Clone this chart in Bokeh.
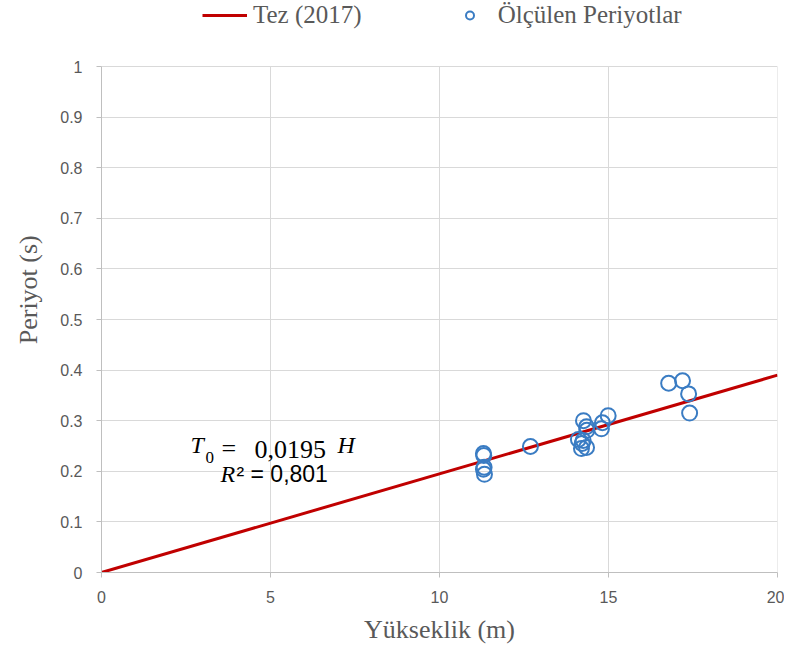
from bokeh.plotting import figure
from bokeh.models import Range1d, Legend, LegendItem, Label, FixedTicker
from bokeh.embed import file_html
from bokeh.resources import INLINE

# measured periods
height_m = [11.30, 11.31, 11.32, 11.30, 11.33, 12.69,
            14.26, 14.35, 14.36, 14.11, 14.25, 14.22, 14.20, 14.35,
            14.82, 14.79, 14.99,
            16.78, 17.19, 17.37, 17.40]
period_s = [0.235, 0.231, 0.208, 0.204, 0.194, 0.249,
            0.300, 0.288, 0.281, 0.263, 0.261, 0.255, 0.245, 0.247,
            0.296, 0.284, 0.310,
            0.374, 0.379, 0.353, 0.315]

# Tez (2017) relation T0 = 0.0195 H
coef = 0.0195
line_x = [0, 20]
line_y = [coef * v for v in line_x]

x_ticks = [0, 5, 10, 15, 20]
y_ticks = [0, 0.1, 0.2, 0.3, 0.4, 0.5, 0.6, 0.7, 0.8, 0.9, 1.0]
y_tick_labels = {0: "0", 0.1: "0.1", 0.2: "0.2", 0.3: "0.3", 0.4: "0.4", 0.5: "0.5",
                 0.6: "0.6", 0.7: "0.7", 0.8: "0.8", 0.9: "0.9", 1.0: "1"}
y_max = 1.0

# frame extends above y=1 to hold the legend (572 px frame, 506 px for 0..1)
p = figure(width=784, height=646, output_backend="svg", toolbar_location=None,
           x_range=Range1d(0, 20), y_range=Range1d(0, y_max * 572 / 506),
           min_border_left=101, min_border_right=7, min_border_top=0, min_border_bottom=74)
p.outline_line_color = None

gray = "#595959"
for ax in (p.xaxis[0], p.yaxis[0]):
    ax.axis_line_color = "#bfbfbf"
    ax.major_tick_line_color = "#bfbfbf"
    ax.major_tick_out = 5
    ax.major_tick_in = 0
    ax.minor_tick_line_color = None
    ax.major_label_text_color = gray
    ax.major_label_text_font = "Liberation Sans"
    ax.major_label_text_font_size = "16px"
    ax.axis_label_text_color = gray
    ax.axis_label_text_font = "Liberation Serif"
    ax.axis_label_text_font_style = "normal"
    ax.axis_label_text_font_size = "26px"

p.xaxis.ticker = FixedTicker(ticks=x_ticks)
p.yaxis.ticker = FixedTicker(ticks=y_ticks)
p.yaxis.bounds = (0, y_max)
p.yaxis.major_label_overrides = y_tick_labels
p.xaxis.axis_label = "Yükseklik (m)"
p.yaxis.axis_label = "Periyot  (s)"
p.xaxis.major_label_standoff = 13
p.yaxis.major_label_standoff = 14
p.xaxis.axis_label_standoff = 9
p.yaxis.axis_label_standoff = 14

p.xgrid.visible = False
p.ygrid.ticker = FixedTicker(ticks=y_ticks)
p.ygrid.grid_line_color = "#d9d9d9"
p.ygrid.grid_line_width = 1
# vertical grid lines limited to 0..1
p.segment(x0=x_ticks, y0=[0] * len(x_ticks), x1=x_ticks, y1=[y_max] * len(x_ticks),
          line_color="#d9d9d9", line_width=1)

r_line = p.line(line_x, line_y, line_color="#c00000", line_width=3)
r_pts = p.scatter(height_m, period_s, marker="circle", size=15, fill_color=None,
                  line_color="#3a7cc3", line_width=2)

legend = Legend(items=[LegendItem(label="Tez (2017)", renderers=[r_line]),
                       LegendItem(label="Ölçülen Periyotlar", renderers=[r_pts])],
                orientation="horizontal", location=(101, 543),
                label_text_font="Liberation Serif", label_text_font_size="25px",
                label_text_color=gray, glyph_width=45, label_standoff=6, spacing=85,
                border_line_color=None, background_fill_alpha=0, padding=3,
                margin=0)
p.add_layout(legend)

# equation annotations
eq_font = "Liberation Serif"
p.add_layout(Label(x=2.63, y=0.227, text="T", text_font=eq_font, text_font_style="italic",
                   text_font_size="24px", text_color="black"))
p.add_layout(Label(x=2.63, y=0.227, x_offset=15, y_offset=-5, text="0", text_font=eq_font,
                   text_font_size="17px", text_color="black"))
p.add_layout(Label(x=2.63, y=0.227, x_offset=31, y_offset=-5, text="=", text_font=eq_font,
                   text_font_size="26px", text_color="black"))
p.add_layout(Label(x=2.63, y=0.227, x_offset=64, text="0,0195", text_font=eq_font,
                   text_font_size="26px", text_color="black"))
p.add_layout(Label(x=2.63, y=0.227, x_offset=147, text="H", text_font=eq_font,
                   text_font_style="italic", text_font_size="24px", text_color="black"))
p.add_layout(Label(x=3.52, y=0.168, text="R", text_font=eq_font, text_font_style="italic",
                   text_font_size="24px", text_color="black"))
p.add_layout(Label(x=3.52, y=0.168, x_offset=16, text="² = 0,801", text_font="Liberation Sans",
                   text_font_size="23px", text_color="black"))

open("out.html", "w").write(file_html(p, INLINE))
